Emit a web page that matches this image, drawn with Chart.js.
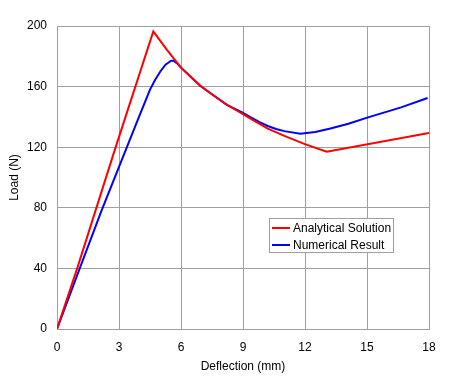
<!DOCTYPE html>
<html>
<head>
<meta charset="utf-8">
<script src="https://cdn.jsdelivr.net/npm/chart.js@4.4.1/dist/chart.umd.min.js"></script>
<style>
  html, body { margin: 0; padding: 0; background: #fff; }
  #c { display: block; }
</style>
</head>
<body>
<canvas id="c" width="450" height="382"></canvas>
<script>
// ---- Data ----
const seriesNames = ["Analytical Solution", "Numerical Result"];

const analyticalX = [0, 1.0, 2.8, 4.66, 4.99, 5.31, 6.0, 6.93, 7.41, 8.22, 8.98, 9.4, 10.2, 11.0, 11.99, 13.05, 18];
const analyticalY = [0, 41, 118.4, 196.4, 190.3, 184.4, 172.5, 160.6, 155.8, 148, 142, 138.6, 132.3, 127.5, 122, 117, 129.4];

const numericalX = [0, 1.1, 2.15, 3.0, 4.01, 4.5, 4.75, 5.0, 5.25, 5.52, 5.65, 5.8, 6.0, 6.93, 7.41, 8.22, 8.98, 9.4, 9.8, 10.2, 10.6, 11.0, 11.77, 12.5, 13.23, 14.1, 15.05, 16.65, 17.93];
const numericalY = [0, 40, 78, 107, 141.5, 158, 164.5, 170, 174.5, 177.1, 177, 175.5, 172.5, 160.6, 155.8, 148, 142.8, 139.6, 136.6, 134, 132, 130.6, 128.9, 130, 132.3, 135.5, 139.7, 146.3, 152.5];

const xTicks = [0, 3, 6, 9, 12, 15, 18];
const yTicks = [0, 40, 80, 120, 160, 200];

const xTitle = "Deflection (mm)";
const yTitle = "Load (N)";

// ---- Build ----
const toPts = (xs, ys) => xs.map((x, i) => ({ x: x, y: ys[i] }));
const FONT = "'Liberation Sans', Arial, sans-serif";
const GRID = "#a0a0a0";

const legendPlugin = {
  id: "boxLegend",
  afterDraw(chart) {
    const ctx = chart.ctx;
    const bx = 269, by = 218, bw = 124, bh = 34;
    ctx.save();
    ctx.fillStyle = "#ffffff";
    ctx.fillRect(bx, by, bw, bh);
    ctx.strokeStyle = GRID;
    ctx.lineWidth = 1;
    ctx.strokeRect(bx + 0.5, by + 0.5, bw, bh);
    ctx.font = "12px " + FONT;
    ctx.textBaseline = "middle";
    ctx.fillStyle = "#000";
    chart.data.datasets.forEach((ds, i) => {
      const y = by + 10 + i * 17;
      ctx.strokeStyle = ds.borderColor;
      ctx.lineWidth = 2;
      ctx.beginPath();
      ctx.moveTo(bx + 3, y);
      ctx.lineTo(bx + 21, y);
      ctx.stroke();
      ctx.fillText(ds.label, bx + 24, y + 0.5);
    });
    ctx.restore();
  }
};

new Chart(document.getElementById("c"), {
  type: "line",
  data: {
    datasets: [
      { label: seriesNames[0], data: toPts(analyticalX, analyticalY), borderColor: "#ff0000", backgroundColor: "#ff0000", borderWidth: 2, pointRadius: 0, tension: 0, fill: false },
      { label: seriesNames[1], data: toPts(numericalX, numericalY), borderColor: "#0000ff", backgroundColor: "#0000ff", borderWidth: 2, pointRadius: 0, tension: 0, fill: false }
    ]
  },
  options: {
    responsive: false,
    animation: false,
    devicePixelRatio: 1,
    layout: { padding: { top: 26, right: 21, left: 0, bottom: 0 } },
    plugins: { legend: { display: false }, tooltip: { enabled: false } },
    scales: {
      x: {
        type: "linear",
        min: 0, max: 18,
        afterBuildTicks: (s) => { s.ticks = xTicks.map(v => ({ value: v })); },
        afterFit: (s) => { s.height = 53; },
        ticks: { color: "#000", font: { family: FONT, size: 12 }, padding: 11, maxRotation: 0 },
        grid: { color: GRID, drawTicks: false, lineWidth: 1 },
        border: { color: GRID, width: 1 },
        title: { display: true, text: xTitle, color: "#000", font: { family: FONT, size: 12 }, padding: { top: 0, bottom: 8 } }
      },
      y: {
        type: "linear",
        min: 0, max: 200,
        afterBuildTicks: (s) => { s.ticks = yTicks.map(v => ({ value: v })); },
        afterFit: (s) => { s.width = 57; },
        ticks: { color: "#000", font: { family: FONT, size: 12 }, padding: 10 },
        grid: { color: GRID, drawTicks: false, lineWidth: 1 },
        border: { color: GRID, width: 1 },
        title: { display: true, text: yTitle, color: "#000", font: { family: FONT, size: 12 }, padding: { top: 7, bottom: 0 } }
      }
    }
  },
  plugins: [legendPlugin]
});
</script>
</body>
</html>
